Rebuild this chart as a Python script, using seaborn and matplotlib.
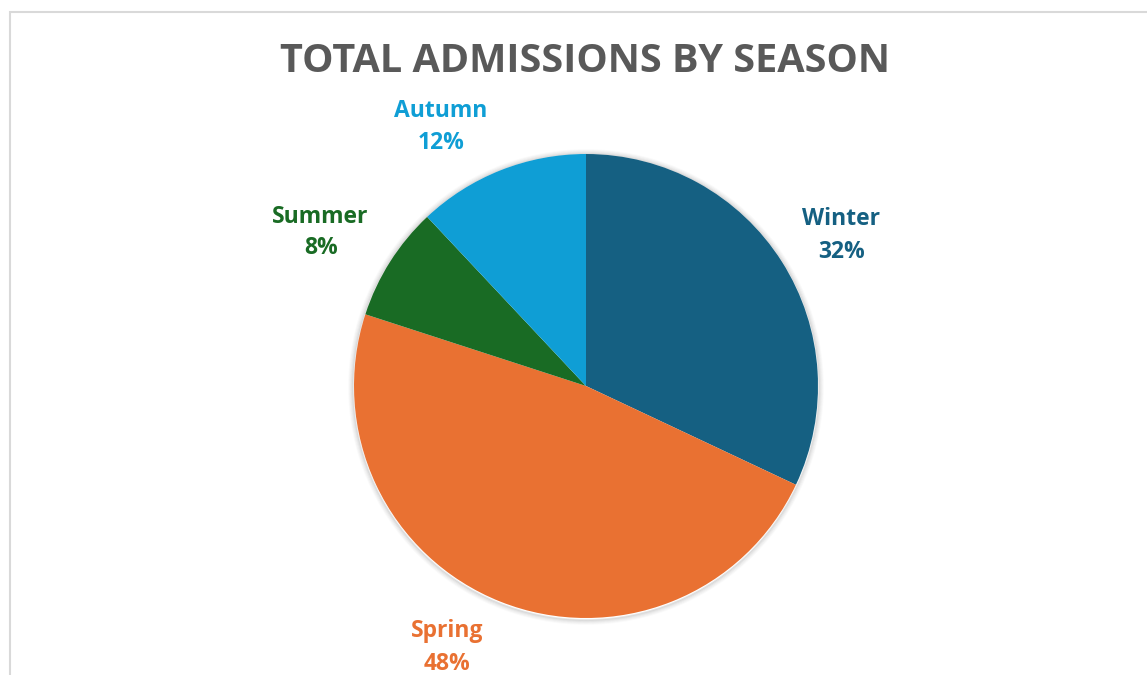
import matplotlib
matplotlib.use("Agg")
import matplotlib.pyplot as plt
from matplotlib.patches import Circle, Rectangle
import seaborn as sns

# Admissions share by season (percent)
seasons = ["Winter", "Spring", "Summer", "Autumn"]
shares = [32, 48, 8, 12]
season_colors = ["#156082", "#E97132", "#196B24", "#0F9ED5"]
title = "TOTAL ADMISSIONS BY SEASON"

sns.set_theme(style="white")
plt.rcParams["font.family"] = ["Open Sans", "DejaVu Sans"]

W, H = 1147, 675
fig = plt.figure(figsize=(W / 100, H / 100), dpi=100)
fig.patch.set_facecolor("white")
ax = fig.add_axes([0, 0, 1, 1])

palette = sns.color_palette(season_colors)
cx, cy, r = 586, 289, 232

# soft outer shadow around the pie
for k, a in zip(range(1, 6), [0.10, 0.07, 0.05, 0.03, 0.02]):
    ax.add_patch(Circle((cx, cy - 1), r + k, facecolor="none",
                        edgecolor=(0, 0, 0, a), lw=1.2, zorder=0))

ax.pie(shares, colors=palette, startangle=90, counterclock=False,
       center=(cx, cy), radius=r, frame=False,
       wedgeprops=dict(linewidth=0, zorder=1))

# data labels: name over percentage, in the slice colour
label_pos = {
    "Winter": ((840.5, 450), (842, 417)),
    "Spring": ((447.5, 38), (447.5, 5)),
    "Summer": ((320.5, 452), (321, 421)),
    "Autumn": ((440.5, 558), (441, 526)),
}
for name, val, col in zip(seasons, shares, palette):
    (nx, ny), (px, py) = label_pos[name]
    ax.text(nx, ny, name, color=col, fontsize=16.5, fontweight="bold",
            ha="center", va="baseline")
    ax.text(px, py, f"{val}%", color=col, fontsize=16.5, fontweight="bold",
            ha="center", va="baseline")

ax.text(585.5, H - 72, title, color="#595959", fontsize=28.5,
        fontweight="bold", ha="center", va="baseline")

# chart-area border (top and left edges)
ax.add_patch(Rectangle((9.5, -50), 2000, (H - 11.5) + 50, facecolor="none",
                       edgecolor="#d9d9d9", lw=1.5, zorder=5, clip_on=False))

ax.set_xlim(0, W)
ax.set_ylim(0, H)
ax.set_aspect("equal")
ax.axis("off")

fig.savefig("out.png", dpi=100, facecolor="white")
